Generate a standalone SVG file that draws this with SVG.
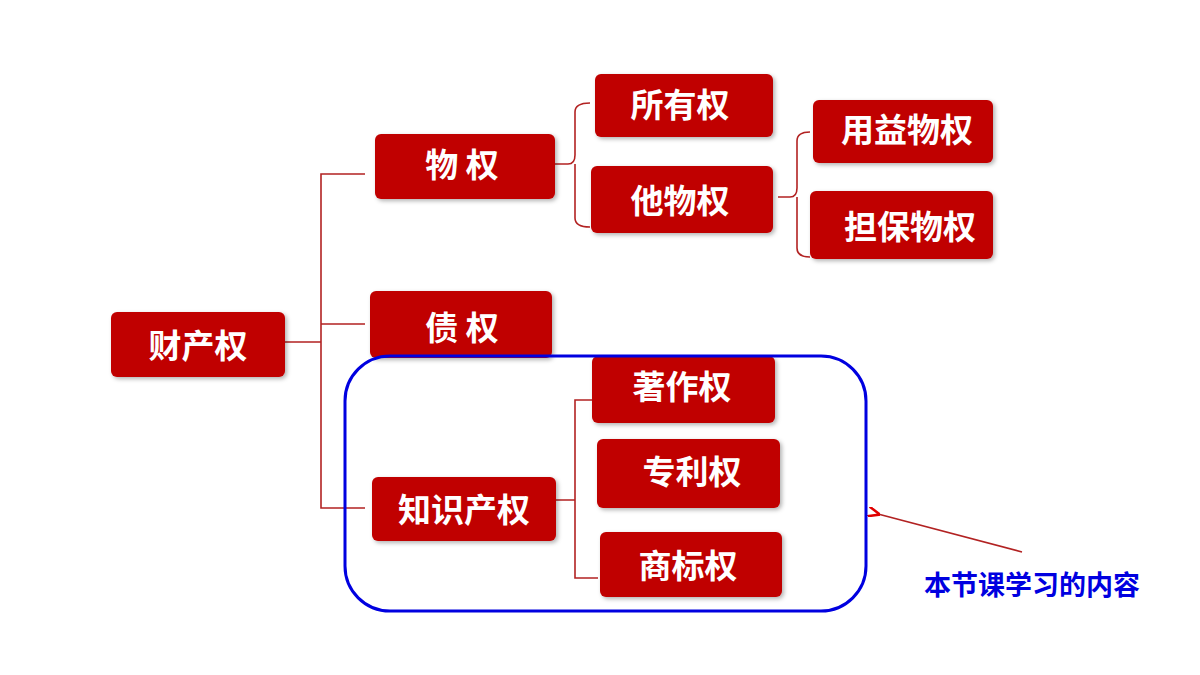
<svg xmlns="http://www.w3.org/2000/svg" width="1200" height="675" viewBox="0 0 1200 675">
<style>
.n rect{fill:#c00000;filter:url(#sh)}
.n text{fill:#fff;font-family:"Noto Sans CJK SC","Noto Sans",sans-serif;font-weight:bold;font-size:33px;text-anchor:middle;dominant-baseline:central}
.c path{fill:none;stroke:#b22222;stroke-width:1.6}
</style>
<defs>
<filter id="sh" x="-10%" y="-10%" width="125%" height="130%"><feDropShadow dx="2" dy="2" stdDeviation="2" flood-color="#000" flood-opacity="0.3"/></filter>
<marker id="ah" markerWidth="12" markerHeight="10" refX="2" refY="5" orient="auto" markerUnits="userSpaceOnUse"><path d="M12,0 L0,5 L12,10" fill="none" stroke="#e00000" stroke-width="2.5"/></marker>
</defs>
<rect width="1200" height="675" fill="#fff"/>
<g class="c" id="connectors">
<path d="M285,342 H321 M365,174 H321 V508 H365 M321,324 H365"/>
<path d="M555,164 H568 Q575,164 575,155 V112 Q575,103 590,103 M575,164 V218 Q575,227 590,227"/>
<path d="M778,197 H790 Q797,197 797,188 V141 Q797,132 810,132 M797,197 V248 Q797,257 810,257"/>
<path d="M556,500 H575 M592,400 H575 V578 H598"/>
<path d="M1022,552 L878,514" stroke="#e00000" stroke-width="3" marker-end="url(#ah)"/>
</g>
<g class="n" id="n1"><rect x="111" y="312" width="174" height="65" rx="6"/><text x="198" y="344">财产权</text></g>
<g class="n" id="n2"><rect x="375" y="134" width="180" height="65" rx="6"/><text x="462" y="163">物 权</text></g>
<g class="n" id="n3"><rect x="370" y="291" width="182" height="67" rx="6"/><text x="462" y="326">债 权</text></g>
<g class="n" id="n4"><rect x="372" y="477" width="184" height="64" rx="6"/><text x="464" y="508">知识产权</text></g>
<g class="n" id="n5"><rect x="595" y="74" width="178" height="63" rx="6"/><text x="680" y="103">所有权</text></g>
<g class="n" id="n6"><rect x="591" y="166" width="182" height="67" rx="6"/><text x="680" y="199">他物权</text></g>
<g class="n" id="n7"><rect x="813" y="100" width="180" height="63" rx="6"/><text x="907" y="128">用益物权</text></g>
<g class="n" id="n8"><rect x="810" y="191" width="183" height="68" rx="6"/><text x="910" y="225">担保物权</text></g>
<g class="n" id="n9"><rect x="592" y="356" width="183" height="67" rx="6"/><text x="682" y="385">著作权</text></g>
<g class="n" id="n10"><rect x="597" y="439" width="183" height="69" rx="6"/><text x="692" y="470">专利权</text></g>
<g class="n" id="n11"><rect x="600" y="532" width="182" height="65" rx="6"/><text x="688" y="564">商标权</text></g>
<rect x="345" y="356" width="521" height="255" rx="45" fill="none" stroke="#0000e0" stroke-width="3"/>
<text x="1032" y="583" fill="#0000e0" font-family="Noto Sans CJK SC,sans-serif" font-weight="bold" font-size="27" text-anchor="middle" dominant-baseline="central">本节课学习的内容</text>
</svg>
